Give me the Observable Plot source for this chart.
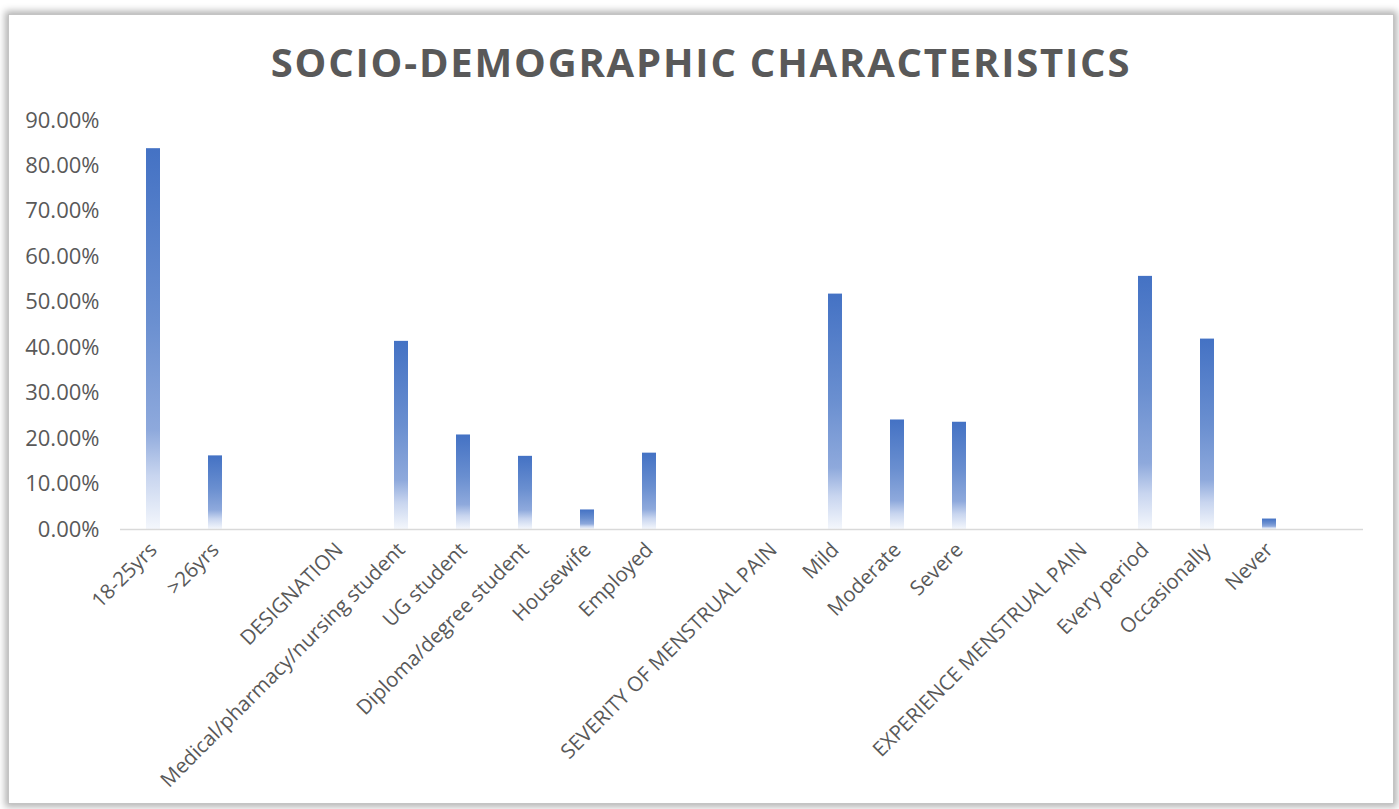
<!DOCTYPE html>
<html>
<head>
<meta charset="utf-8">
<script src="https://cdn.jsdelivr.net/npm/d3@7"></script>
<script src="https://cdn.jsdelivr.net/npm/@observablehq/plot@0.6"></script>
<style>
  html, body { margin: 0; padding: 0; background: #fff; }
  body { width: 1399px; height: 809px; position: relative; overflow: hidden; }
  #frame {
    position: absolute; left: 8px; top: 14px; width: 1384px; height: 788px;
    border: 1px solid #c4c4c4; background: #fff;
    box-shadow: 0 0 7px 3px rgba(0,0,0,0.3);
  }
  #title {
    height: 86px; text-align: center;
    font-family: "Open Sans", sans-serif; font-weight: 700; font-size: 40px;
    color: #595959; line-height: 94px; letter-spacing: 1.8px;
  }
  #chart svg { display: block; overflow: visible; }
</style>
</head>
<body>
<div id="frame">
  <div id="title">SOCIO-DEMOGRAPHIC CHARACTERISTICS</div>
  <div id="chart"></div>
</div>
<script>
// Category labels along the x axis (blank slots separate the groups)
const categories = [
  "18-25yrs", ">26yrs", "",
  "DESIGNATION", "Medical/pharmacy/nursing student", "UG student",
  "Diploma/degree student", "Housewife", "Employed", "",
  "SEVERITY OF MENSTRUAL PAIN", "Mild", "Moderate", "Severe", "",
  "EXPERIENCE MENSTRUAL PAIN", "Every period", "Occasionally", "Never", ""
];
// Percentage for each category (null = heading or spacer, no bar)
const values = [
  83.8, 16.2, null,
  null, 41.4, 20.8, 16.1, 4.3, 16.8, null,
  null, 51.8, 24.1, 23.6, null,
  null, 55.7, 41.9, 2.3, null
];
// Y axis ticks
const yTicks = [0, 10, 20, 30, 40, 50, 60, 70, 80, 90];

const data = categories.map((c, i) => ({i, label: c, value: values[i]}))
  .filter(d => d.value != null);

const chart = Plot.plot({
  width: 1384,
  height: 700,
  marginLeft: 111,
  marginRight: 30,
  marginTop: 19,
  marginBottom: 272,
  style: {fontFamily: "'Open Sans', sans-serif", color: "#595959", background: "transparent"},
  x: {
    type: "band",
    domain: d3.range(categories.length),
    paddingInner: 0.775,
    paddingOuter: 0.3875
  },
  y: {domain: [0, 90]},
  marks: [
    Plot.barY(data, {x: "i", y: "value", fill: "url(#barGrad)"}),
    Plot.ruleY([0], {stroke: "#d9d9d9", strokeWidth: 1.5}),
    Plot.axisY({
      ticks: yTicks, tickSize: 0, tickPadding: 21, fontSize: 22,
      tickFormat: d => d.toFixed(2) + "%", label: null
    }),
    Plot.axisX({
      tickSize: 0, tickPadding: 17, tickRotate: -45, fontSize: 20.5,
      tickFormat: i => categories[i], label: null
    })
  ]
});

// Vertical fade from blue at the bar top to white at the base
const defs = d3.select(chart).insert("defs", ":first-child");
const grad = defs.append("linearGradient")
  .attr("id", "barGrad").attr("x1", 0).attr("y1", 0).attr("x2", 0).attr("y2", 1);
[[0, "#4472c4"], [0.45, "#6a8fd0"], [0.74, "#8ea9dc"], [0.86, "#c8d5ef"], [1, "#f4f7fc"]]
  .forEach(([o, c]) => grad.append("stop").attr("offset", o).attr("stop-color", c));

document.getElementById("chart").appendChild(chart);
</script>
</body>
</html>
